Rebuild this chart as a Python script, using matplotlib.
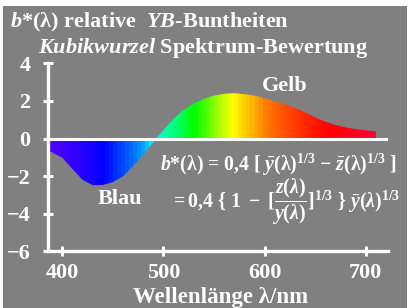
import numpy as np
import matplotlib
matplotlib.use("Agg")
import matplotlib.pyplot as plt
from matplotlib.patches import Rectangle
from matplotlib.colors import LinearSegmentedColormap

plt.rcParams['font.family'] = ['Liberation Serif', 'DejaVu Serif']
plt.rcParams['font.weight'] = 'bold'
plt.rcParams['mathtext.fontset'] = 'custom'
plt.rcParams['mathtext.rm'] = 'Liberation Serif:bold'
plt.rcParams['mathtext.bf'] = 'Liberation Serif:bold'
plt.rcParams['mathtext.it'] = 'Liberation Serif:italic:bold'

# b*(lambda)
wavelength = [386, 390, 400, 410, 420, 430, 440, 450, 460, 470, 480, 490,
              500, 510, 520, 530, 540, 550, 560, 570, 580, 590, 600,
              610, 620, 630, 640, 650, 660, 670, 680, 690, 700, 710]
b_star = [-0.66, -0.74, -1.02, -1.62, -2.20, -2.48, -2.47, -2.32, -2.02, -1.47, -0.87, -0.20,
          0.45, 1.05, 1.52, 1.86, 2.11, 2.28, 2.38, 2.41, 2.36, 2.28, 2.15,
          1.98, 1.83, 1.63, 1.39, 1.12, 0.90, 0.72, 0.59, 0.50, 0.44, 0.38]

x_ticks = [400, 500, 600, 700]
y_ticks = [-6, -4, -2, 0, 2, 4]

# spectral colours (anchor wavelengths and colours)
spec_nm = [386, 420, 440, 460, 480, 490, 500, 515, 530, 550, 568, 585, 600, 620, 645, 665, 710]
spec_col = ['#5000ff', '#2800ff', '#0000ff', '#0048ff', '#00a0ff', '#00ffff', '#00ffb8', '#00ff60',
            '#00ff00', '#80ff00', '#ffff00', '#ffc000', '#ff8000', '#ff5000', '#ff2000', '#ff0000', '#ff0038']

W, H = 413, 308
fig = plt.figure(figsize=(W / 100, H / 100), dpi=100)
fig.patch.set_facecolor('white')
fig.add_artist(Rectangle((3 / W, 0), 404 / W, 302 / H, transform=fig.transFigure,
                         facecolor='#808080', edgecolor='none', zorder=-10))

ax = fig.add_axes([47.7 / W, (H - 251.3) / H, 340.3 / W, 188 / H])
ax.patch.set_visible(False)
ax.set_xlim(385.6, 722)
ax.set_ylim(-6, 4)

# coloured spectrum strips clipped to the curve area
poly = ax.fill_between(wavelength, 0, b_star, facecolor='none', edgecolor='none')
pos = [(n - spec_nm[0]) / (spec_nm[-1] - spec_nm[0]) for n in spec_nm]
cmap = LinearSegmentedColormap.from_list('spec', list(zip(pos, spec_col)))
strips = np.arange(wavelength[0], wavelength[-1], 4) + 2
img = cmap((strips - spec_nm[0]) / (spec_nm[-1] - spec_nm[0]))[np.newaxis, :, :]
im = ax.imshow(img, extent=(wavelength[0], wavelength[-1], -6, 4), aspect='auto',
               interpolation='nearest', zorder=1)
im.set_clip_path(poly.get_paths()[0], transform=ax.transData)

ax.axhline(0, color='white', lw=2.2, zorder=3)

for s in ['top', 'right']:
    ax.spines[s].set_visible(False)
for s in ['left', 'bottom']:
    ax.spines[s].set_color('white')
    ax.spines[s].set_linewidth(2.4)
    ax.spines[s].set_zorder(4)

ax.set_xticks(x_ticks)
ax.set_yticks(y_ticks)
ax.tick_params(colors='white', direction='inout', length=7, width=2.2, labelsize=16)
ax.tick_params(axis='y', pad=9)
ax.tick_params(axis='x', pad=5)

fig.text(10 / W, (H - 27) / H, r'$b$*(λ) relative  $YB$-Buntheiten', color='white',
         fontsize=16, ha='left', va='baseline')
fig.text(38 / W, (H - 53) / H, r'$Kubikwurzel$ Spektrum-Bewertung', color='white',
         fontsize=16, ha='left', va='baseline')
fig.text(285 / W, (H - 86) / H, 'Gelb', color='white', fontsize=16, ha='center', va='center')
fig.text(120 / W, (H - 199) / H, 'Blau', color='white', fontsize=16, ha='center', va='center')
fig.text(160 / W, (H - 171) / H,
         r'$b$*(λ) = 0,4 [ $\bar{y}$(λ)$^{1/3}$ − $\bar{z}$(λ)$^{1/3}$ ]',
         color='white', fontsize=14.2, ha='left', va='baseline')
fig.text(170 / W, (H - 202) / H,
         r'$=0{,}4\ \{\ 1\ -\ [\dfrac{z(\lambda)}{y(\lambda)}]^{1/3}\ \}\ \bar{y}(\lambda)^{1/3}$',
         color='white', fontsize=14.2, ha='left', va='center')
fig.text(221 / W, (H - 303) / H, 'Wellenlänge λ/nm', color='white', fontsize=16.5,
         ha='center', va='baseline')

fig.savefig('out.png', dpi=100)
